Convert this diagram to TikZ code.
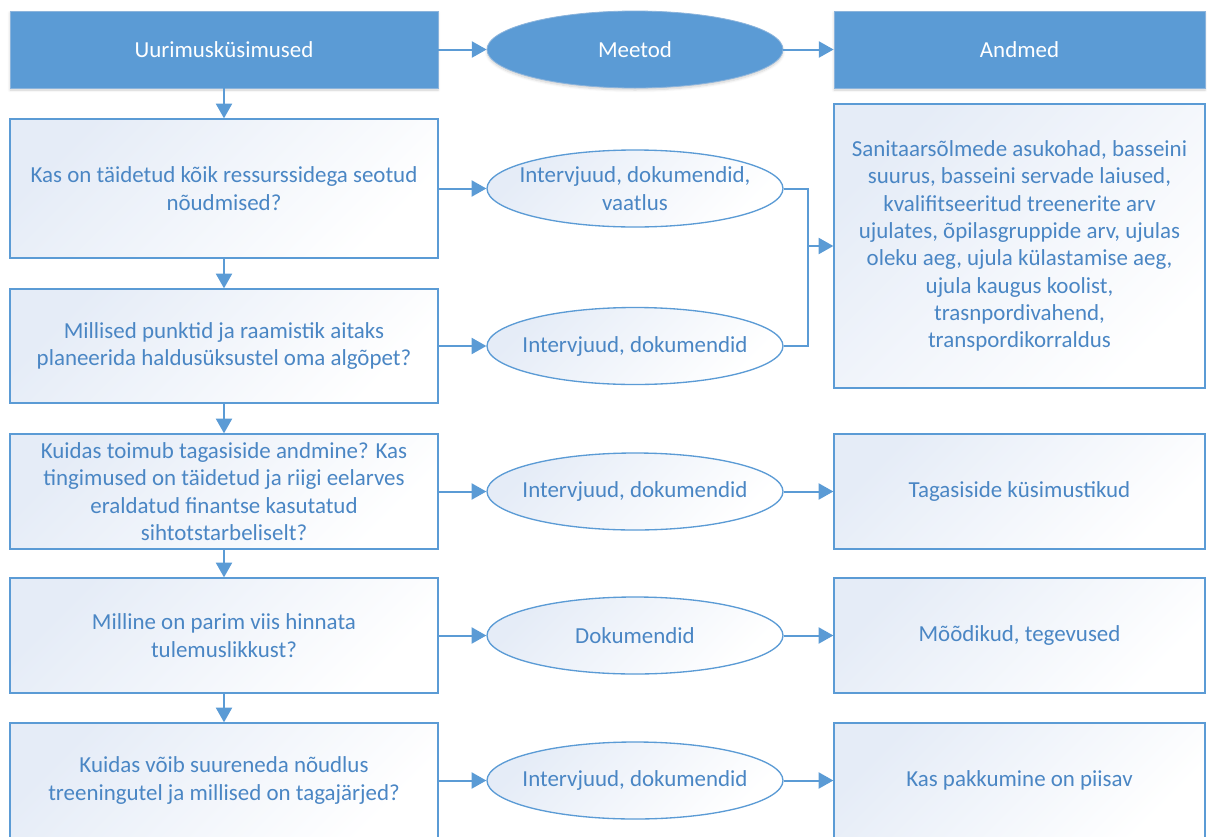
\documentclass[tikz,border=0pt]{standalone}
\usepackage{fontspec}
\setmainfont{Carlito}
\usetikzlibrary{shapes.geometric,arrows.meta,shadows.blur}

\definecolor{hdrblue}{RGB}{91,155,213}
\definecolor{hdredge}{RGB}{140,180,220}
\definecolor{txtblue}{RGB}{74,134,196}
\definecolor{boxtint}{RGB}{229,236,247}

\tikzset{
  hdrbox/.style={rectangle, draw=hdredge, line width=0.6pt, fill=hdrblue, text=white,
    minimum height=57.75pt, inner sep=0pt,
    blur shadow={shadow xshift=0pt, shadow yshift=-1.5pt, shadow opacity=18, shadow blur steps=6}},
  hdroval/.style={ellipse, draw=hdredge, line width=0.6pt, fill=hdrblue, text=white,
    minimum width=222pt, minimum height=57.75pt, inner sep=0pt,
    blur shadow={shadow xshift=0pt, shadow yshift=-1.5pt, shadow opacity=18, shadow blur steps=6}},
  lightbox/.style={rectangle, draw=hdrblue, line width=1pt, text=txtblue, align=center,
    top color=boxtint, bottom color=white, shading angle=45, inner sep=0pt},
  qbox/.style={lightbox, minimum width=321pt},
  dbox/.style={lightbox, minimum width=278.25pt},
  oval/.style={ellipse, draw=hdrblue, line width=1pt,
    top color=boxtint, bottom color=white, shading angle=45,
    minimum width=222pt, minimum height=57.75pt, inner sep=0pt},
  ovaltxt/.style={text=txtblue, align=center, inner sep=0pt},
  flow/.style={draw=hdrblue, line width=1.5pt, -{Triangle[length=11pt,width=12pt]}},
  link/.style={draw=hdrblue, line width=1.5pt}
}

\begin{document}
\begin{tikzpicture}[x=0.75pt,y=0.75pt,yscale=-1,xscale=1,font=\fontsize{17.2pt}{20.5pt}\selectfont]
\useasboundingbox (0,0) rectangle (1207,836);

%Shape: Header row
\node[hdrbox, minimum width=321pt] (uq) at (224,49.5) {Uurimusküsimused};
\node[hdroval] (mt) at (635,49.5) {Meetod};
\node[hdrbox, minimum width=278.25pt] (an) at (1019.5,49.5) {Andmed};

%Shape: Rectangle (questions)
\node[qbox, minimum height=104.25pt] (q1) at (224,188.5) {Kas on täidetud kõik ressurssidega seotud\\nõudmised?};
\node[qbox, minimum height=85.5pt] (q2) at (224,346) {Millised punktid ja raamistik aitaks\\planeerida haldusüksustel oma algõpet?};
\node[qbox, minimum height=86.25pt] (q3) at (224,491.5) {Kuidas toimub tagasiside andmine? Kas\\tingimused on täidetud ja riigi eelarves\\eraldatud finantse kasutatud\\sihtotstarbeliselt?};
\node[qbox, minimum height=86.25pt] (q4) at (224,635.5) {Milline on parim viis hinnata\\tulemuslikkust?};
\node[qbox, minimum height=86.25pt] (q5) at (224,780.5) {Kuidas võib suureneda nõudlus\\treeningutel ja millised on tagajärjed?};

%Shape: Ellipse (methods)
\node[oval, label={[ovaltxt]center:Intervjuud, dokumendid,\\vaatlus}] (m1) at (635,188.5) {};
\node[oval, label={[ovaltxt]center:Intervjuud, dokumendid}] (m2) at (635,346) {};
\node[oval, label={[ovaltxt]center:Intervjuud, dokumendid}] (m3) at (635,491.5) {};
\node[oval, label={[ovaltxt]center:Dokumendid}] (m4) at (635,635.5) {};
\node[oval, label={[ovaltxt]center:Intervjuud, dokumendid}] (m5) at (635,780.5) {};

%Shape: Rectangle (data)
\node[dbox, minimum height=213pt] (d12) at (1019.5,246) {Sanitaarsõlmede asukohad, basseini\\suurus, basseini servade laiused,\\kvalifitseeritud treenerite arv\\ujulates, õpilasgruppide arv, ujulas\\oleku aeg, ujula külastamise aeg,\\ujula kaugus koolist,\\trasnpordivahend,\\transpordikorraldus};
\node[dbox, minimum height=86.25pt] (d3) at (1019.5,491.5) {Tagasiside küsimustikud};
\node[dbox, minimum height=86.25pt] (d4) at (1019.5,635.5) {Mõõdikud, tegevused};
\node[dbox, minimum height=86.25pt] (d5) at (1019.5,780.5) {Kas pakkumine on piisav};

\coordinate (jn) at (808,246);

%Straight Lines
\draw[flow] (uq) -- (mt);
\draw[flow] (mt) -- (an);
\draw[flow] (uq) -- (q1);
\draw[flow] (q1) -- (q2);
\draw[flow] (q2) -- (q3);
\draw[flow] (q3) -- (q4);
\draw[flow] (q4) -- (q5);
\draw[flow] (q1) -- (m1);
\draw[flow] (q2) -- (m2);
\draw[flow] (q3) -- (m3);
\draw[flow] (q4) -- (m4);
\draw[flow] (q5) -- (m5);
\draw[link] (m1.east) -| (jn);
\draw[link] (m2.east) -| (jn);
\draw[flow] (jn) -- (d12);
\draw[flow] (m3) -- (d3);
\draw[flow] (m4) -- (d4);
\draw[flow] (m5) -- (d5);

\end{tikzpicture}
\end{document}
